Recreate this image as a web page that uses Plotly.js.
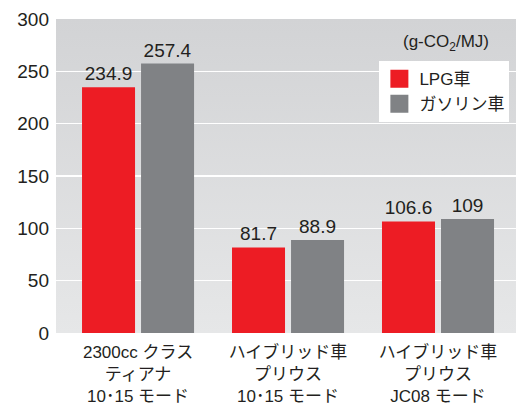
<!DOCTYPE html>
<html>
<head>
<meta charset="utf-8">
<script src="https://cdn.plot.ly/plotly-3.0.1.min.js"></script>
<style>html,body{margin:0;padding:0;background:#fff;}#chart{width:516px;height:406px;}</style>
</head>
<body>
<div id="chart"></div>
<script>
const categories = ["2300cc クラス<br>ティアナ<br>10･15 モード", "ハイブリッド車<br>プリウス<br>10･15 モード", "ハイブリッド車<br>プリウス<br>JC08 モード"];
const seriesNames = ["LPG車", "ガソリン車"];
const lpgValues = [234.9, 81.7, 106.6];
const gasValues = [257.4, 88.9, 109];
const lpgLabels = ["234.9", "81.7", "106.6"];
const gasLabels = ["257.4", "88.9", "109"];
const yTicks = [0, 50, 100, 150, 200, 250, 300];

const RED = "#ed1c24", GRAY = "#808285", TXT = "#231f20";
const FONT = "'Liberation Sans', Arial, 'Noto Sans CJK JP', sans-serif";

const gradSvg = '<svg xmlns="http://www.w3.org/2000/svg" width="10" height="100" preserveAspectRatio="none"><defs><linearGradient id="g" x1="0" y1="0" x2="0" y2="1"><stop offset="0" stop-color="#d2d3d5"/><stop offset="1" stop-color="#e6e7e8"/></linearGradient></defs><rect width="10" height="100" fill="url(#g)"/></svg>';
const gradUri = "data:image/svg+xml;charset=utf-8," + encodeURIComponent(gradSvg);

const traces = [
  {type: "bar", x: categories, y: lpgValues, text: lpgLabels, name: seriesNames[0],
   marker: {color: RED}, textposition: "outside", cliponaxis: false, showlegend: false,
   textfont: {size: 19, color: TXT, family: FONT}, hoverinfo: "skip"},
  {type: "bar", x: categories, y: gasValues, text: gasLabels, name: seriesNames[1],
   marker: {color: GRAY}, textposition: "outside", cliponaxis: false, showlegend: false,
   textfont: {size: 19, color: TXT, family: FONT}, hoverinfo: "skip"},
  {type: "scatter", mode: "markers", x: [categories[0]], y: [null], name: seriesNames[0],
   marker: {symbol: "square", size: 16, color: RED, line: {color: RED, width: 2}}},
  {type: "scatter", mode: "markers", x: [categories[0]], y: [null], name: seriesNames[1],
   marker: {symbol: "square", size: 16, color: GRAY, line: {color: GRAY, width: 2}}}
];

const layout = {
  width: 516, height: 406,
  margin: {l: 56, r: 0, t: 19, b: 73, pad: 0},
  paper_bgcolor: "#ffffff",
  plot_bgcolor: "rgba(0,0,0,0)",
  font: {family: FONT, size: 18, color: TXT},
  barmode: "group",
  bargap: 0.213,
  bargroupgap: 0.1017,
  xaxis: {type: "category", range: [-0.547, 2.52], showgrid: false, zeroline: false,
          showline: false, ticks: "", ticklabelstandoff: 7,
          tickfont: {size: 17, color: TXT, family: FONT}, fixedrange: true},
  yaxis: {range: [0, 300], tickvals: yTicks, ticktext: yTicks.map(String), showgrid: true,
          gridcolor: "#ffffff", gridwidth: 1.5, zeroline: false, showline: false, ticks: "",
          ticklabelstandoff: 6, tickfont: {size: 19, color: TXT, family: FONT}, fixedrange: true},
  images: [{source: gradUri, xref: "paper", yref: "paper", x: 0, y: 1, sizex: 1, sizey: 1,
            xanchor: "left", yanchor: "top", sizing: "stretch", layer: "below"}],
  legend: {x: 0.703, y: 0.866, xanchor: "left", yanchor: "top", bgcolor: "#ffffff",
           borderwidth: 0, font: {size: 17, color: TXT, family: FONT}, itemclick: false, itemdoubleclick: false,
           tracegroupgap: 0},
  annotations: [{xref: "paper", yref: "paper", x: 0.946, y: 0.925, xanchor: "right", yanchor: "middle",
                 text: "(g-CO<sub>2</sub>/MJ)", showarrow: false, font: {size: 17, color: TXT, family: FONT}}],
  showlegend: true
};

Plotly.newPlot("chart", traces, layout, {displayModeBar: false, staticPlot: true});
</script>
</body>
</html>
